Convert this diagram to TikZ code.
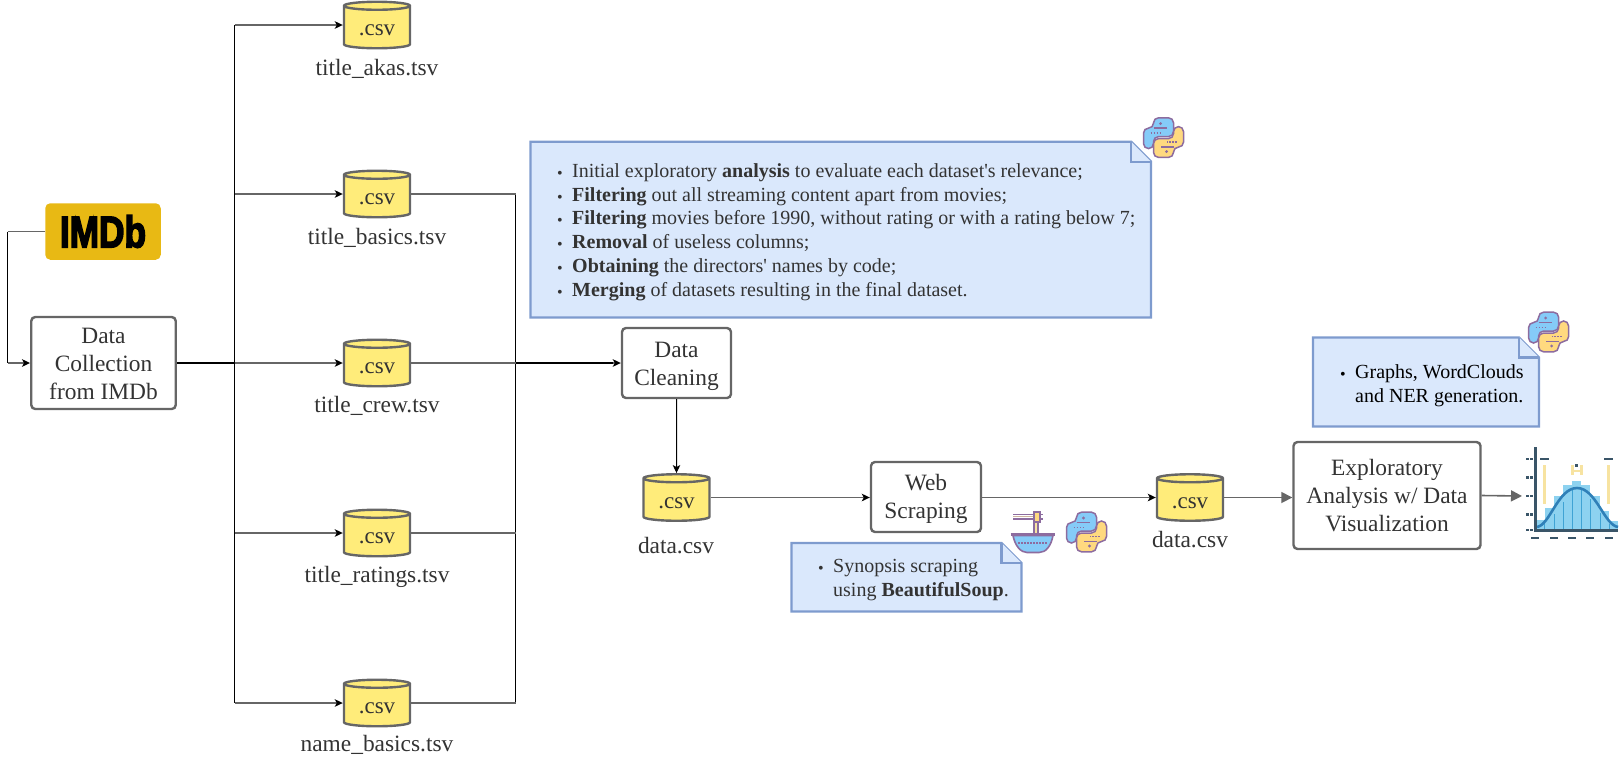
\documentclass[tikz,border=0pt]{standalone}
\usepackage{fontspec}
\setmainfont{Liberation Serif}
\newfontfamily\imdbf[FakeBold=4]{Liberation Sans}
\usetikzlibrary{arrows.meta,shapes.geometric}
\definecolor{strokeg}{HTML}{666666}
\definecolor{txtg}{HTML}{333333}
\definecolor{cylfill}{HTML}{FFEC7A}
\definecolor{notefill}{HTML}{DAE8FC}
\definecolor{notestroke}{HTML}{7E9BCE}
\definecolor{imdbc}{HTML}{E8B914}
\definecolor{ipurple}{HTML}{8D6C9F}
\definecolor{iblue}{HTML}{85CBF8}
\definecolor{iyellow}{HTML}{FFD97F}
\definecolor{axisc}{HTML}{3A5568}
\definecolor{barc}{HTML}{8DD2F0}
\definecolor{barl}{HTML}{3FA3D4}
\definecolor{curvec}{HTML}{2F80B8}
\definecolor{paley}{HTML}{F7E3A1}
\newcommand{\fs}[1]{\fontsize{#1}{#1}\selectfont}
\newcommand{\blt}{\leavevmode\llap{\raisebox{-1pt}{\fontsize{16}{16}\selectfont •}\hspace{9.6pt}}}
\newcommand{\csvt}{\raisebox{-3pt}[\height][\depth]{.csv}}
\newcommand{\notepath}[5]{%
  \path[notesh] (#1,#2) -- (#3-#5,#2) -- (#3,#2+#5) -- (#3,#4) -- (#1,#4) -- cycle;
  \path[notesh] (#3-#5,#2) -- (#3-#5,#2+#5) -- (#3,#2+#5);}
\tikzset{
  procbox/.style={draw=strokeg,line width=2.4pt,fill=white,rounded corners=4pt,text=txtg,align=center,font=\fontsize{23.4}{27.9}\selectfont,inner sep=0pt},
  cyl/.style={cylinder,shape border rotate=90,aspect=0.22,anchor=shape center,draw=strokeg,line width=2.4pt,fill=cylfill,minimum width=66pt,minimum height=46.5pt,inner sep=0pt,text=txtg,font=\fs{23}},
  fname/.style={text=txtg,font=\fs{23.4},inner sep=0pt},
  tip/.style={-{Stealth[black,length=8pt,width=7.5pt,inset=2pt]}},
  hline/.style={draw=strokeg,line width=1.8pt},
  hbold/.style={draw=black,line width=2.2pt},
  vline/.style={draw=black,line width=1pt},
  grayconn/.style={draw=strokeg,line width=1.6pt,-{Triangle[length=11pt,width=11pt]}},
  notesh/.style={draw=notestroke,fill=notefill,line width=2.4pt,line join=miter},
  notetext/.style={anchor=north west,inner sep=0pt,align=left,font=\fontsize{20}{23.7}\selectfont},
  pyicon/.pic={
    \foreach \fc/\ang in {iblue/0,iyellow/180}{
      \begin{scope}[rotate=\ang,draw=ipurple,line width=1.5pt]
        \path[draw,fill=\fc,rounded corners=5pt] (-10,-9.5) -- (-10,-19.8) -- (10,-19.8) -- (10,-1) -- (-10,-1) -- (-10,11) -- (-20,11) -- (-20,-9.5) -- cycle;
        \draw (-10,-9.5) -- (3,-9.5);
        \draw[dash pattern=on 1.5pt off 1.5pt] (-13,-4.5) -- (-3.5,-4.5);
        \fill[ipurple] (-3,-14) circle (1.6pt);
      \end{scope}}
  }
}
\begin{document}
\begin{tikzpicture}[x=1pt,y=-1pt]
\useasboundingbox (0,0) rectangle (1622,761);
% main nodes
\node[anchor=center,fill=imdbc,rounded corners=5pt,minimum width=115.5pt,minimum height=56.5pt,inner sep=0pt] (imdb) at (103,231.5) {\scalebox{.8}[1]{\imdbf\bfseries\fs{44}\textcolor{black}{IMDb}}};
\node[procbox,minimum width=144.5pt,minimum height=92pt] (coll) at (103.5,363) {\rule{0pt}{17pt}Data\\Collection\\from IMDb};
\node[procbox,minimum width=109pt,minimum height=70pt] (clean) at (676.5,363) {\rule{0pt}{21.5pt}Data\\Cleaning};
\node[procbox,minimum width=110pt,minimum height=70pt] (web) at (926,497) {\rule{0pt}{19.5pt}Web\\Scraping};
\node[procbox,minimum width=187pt,minimum height=107pt] (expl) at (1387,495.5) {Exploratory\\Analysis w/ Data\\\rule[-1pt]{0pt}{1pt}Visualization};
\node[cyl] (c1) at (377,25) {\csvt};
\node[cyl] (c2) at (377,194) {\csvt};
\node[cyl] (c3) at (377,363) {\csvt};
\node[cyl] (c4) at (377,533) {\csvt};
\node[cyl] (c5) at (377,703) {\csvt};
\node[cyl] (d1) at (676.5,497.5) {\csvt};
\node[cyl] (d2) at (1190,497.5) {\csvt};
\node[fname] at (377,68.5) {title\_akas.tsv};
\node[fname] at (377,238) {title\_basics.tsv};
\node[fname] at (377,406) {title\_crew.tsv};
\node[fname] at (377,577) {title\_ratings.tsv};
\node[fname] at (377,744.5) {name\_basics.tsv};
\node[fname] at (676,546) {data.csv};
\node[fname] at (1190,540) {data.csv};
% connectors
\coordinate (busl) at (234.5,363);
\coordinate (busr) at (515.5,363);
\coordinate (imdbl) at (7.5,231.5);
\draw[hline] (imdb.west) -- (imdbl);
\draw[vline] (imdbl) -- (imdbl |- coll.west);
\draw[hline,tip] (imdbl |- coll.west) -- (coll.west);
\draw[vline] (busl |- c1.shape center) -- (busl |- c5.shape center);
\draw[vline] (busr |- c2.shape center) -- (busr |- c5.shape center);
\draw[hbold] (coll.east) -- (busl);
\foreach \c in {c1,c2,c3,c4,c5}{
  \draw[hline,tip] (busl |- \c.shape center) -- (\c.west |- \c.shape center);
}
\foreach \c in {c2,c3,c4,c5}{
  \draw[hline] (\c.east |- \c.shape center) -- (busr |- \c.shape center);
}
\draw[hbold] (busr) -- ([xshift=-7pt]clean.west);
\draw[hline,tip] ([xshift=-8pt]clean.west) -- (clean.west);
\draw[vline,tip] (clean.south) -- (d1.north);
\draw[hline,tip] (d1.east |- d1.shape center) -- (web.west |- d1.shape center);
\draw[hline,tip] (web.east |- d2.shape center) -- (d2.west |- d2.shape center);
\draw[grayconn] (d2.east |- d2.shape center) -- (expl.west |- d2.shape center);
\coordinate (histin) at (1522,496);
\draw[grayconn] (expl.east) -- (histin);
% notes
\notepath{530.5}{141.7}{1151}{317.5}{20}
\node[notetext,text=txtg] at (572,163.5) {\blt Initial exploratory \textbf{analysis} to evaluate each dataset\textquotesingle s relevance;\\
\blt\textbf{Filtering} out all streaming content apart from movies;\\
\blt\textbf{Filtering} movies before 1990, without rating or with a rating below 7;\\
\blt\textbf{Removal} of useless columns;\\
\blt\textbf{Obtaining} the directors\textquotesingle\ names by code;\\
\blt\textbf{Merging} of datasets resulting in the final dataset.};
\notepath{791.5}{543}{1021.5}{611.5}{20}
\node[notetext,text=txtg] at (833,559.5) {\blt Synopsis scraping\\using \textbf{BeautifulSoup}.};
\notepath{1313}{337.5}{1539}{426.5}{20}
\node[notetext,text=black] at (1355,364.5) {\blt Graphs, WordClouds\\and NER generation.};
% python icons
\pic at (1163.5,137.6) {pyicon};
\pic at (1086.5,532) {pyicon};
\pic at (1548.6,332) {pyicon};
% ramen icon
\begin{scope}[draw=ipurple]
  \draw[line width=1.6pt] (1013,514.5) -- (1043,514.5);
  \draw[line width=1.6pt] (1013,519) -- (1043,519);
  \draw[paley!60!ipurple,line width=1pt] (1013,516.8) -- (1035,516.8);
  \path[draw,fill=iyellow,line width=1.2pt] (1034,512) rectangle (1040,522);
  \path[draw,fill=paley,line width=1.2pt] (1034,522) rectangle (1038,534);
  \path[draw,fill=iblue,line width=1.6pt] (1013,535.5) .. controls (1015,546) and (1021,552.5) .. (1027,552.5) -- (1039,552.5) .. controls (1046,552.5) and (1051,546) .. (1053,535.5) -- cycle;
  \draw[line width=2.2pt,ipurple] (1010.5,534.5) -- (1055,534.5);
  \draw[line width=1.4pt,dash pattern=on 1.5pt off 1.5pt] (1018,543) -- (1048,543);
\end{scope}
% histogram icon
\begin{scope}
  \fill[barc] (1537,519.5) rectangle (1544.5,530);
  \fill[barc] (1544.5,508) rectangle (1554,530);
  \fill[barc] (1554,496) rectangle (1563,530);
  \fill[barc] (1563,485) rectangle (1572,530);
  \fill[barc] (1572,481) rectangle (1581,530);
  \fill[barc] (1581,485) rectangle (1590,530);
  \fill[barc] (1590,496) rectangle (1600,530);
  \fill[barc] (1600,511) rectangle (1609,530);
  \fill[barc] (1609,520.5) rectangle (1618,530);
  \foreach \x/\y in {1544.5/522,1554/514,1563/502,1572/489,1581/489,1590/499,1600/513,1609/524}{
    \draw[barl,line width=1pt] (\x,\y) -- (\x,530);
  }
  \draw[curvec,line width=2.6pt] (1537,527) .. controls (1550,525) and (1558,488) .. (1577,488) .. controls (1596,488) and (1604,525) .. (1618,527);
  \fill[paley] (1543,464.5) rectangle (1546.3,503.5);
  \fill[paley] (1607,464.5) rectangle (1610.3,503.5);
  \fill[paley] (1571,464.5) rectangle (1574,475);
  \fill[paley] (1579.5,464.5) rectangle (1582.5,475);
  \fill[paley] (1571,469.5) rectangle (1582.5,471.5);
  \fill[axisc] (1574.5,464) rectangle (1577.5,466.8);
  \fill[axisc] (1534,447) rectangle (1537,531);
  \fill[axisc] (1534,529) rectangle (1618,532);
  \foreach \y in {459,477.5,496,514.5,530}{
    \fill[axisc] (1526,\y-1.4) rectangle (1528.7,\y+1.4);
    \fill[axisc] (1530.3,\y-1.4) rectangle (1533,\y+1.4);
  }
  \foreach \x in {1531,1549.5,1568,1586,1604.5}{
    \fill[axisc] (\x,536.5) rectangle (\x+8.4,539);
  }
  \fill[axisc] (1540,457.7) rectangle (1549,460.3);
  \fill[axisc] (1604,457.7) rectangle (1613,460.3);
\end{scope}
\end{tikzpicture}
\end{document}
